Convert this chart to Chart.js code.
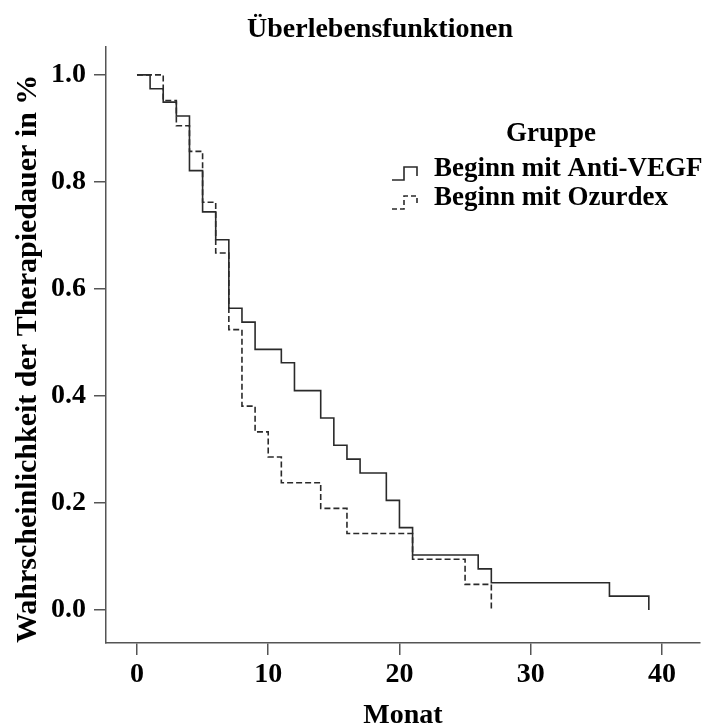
<!DOCTYPE html>
<html><head><meta charset="utf-8">
<script src="https://cdn.jsdelivr.net/npm/chart.js@4.4.1/dist/chart.umd.min.js"></script>
<style>html,body{margin:0;padding:0;background:#fff;} canvas{display:block;}</style>
</head><body>
<canvas id="c" width="712" height="724"></canvas>
<script>
const chartTitle = 'Überlebensfunktionen';
const legendTitle = 'Gruppe';
const seriesNames = ['Beginn mit Anti-VEGF', 'Beginn mit Ozurdex'];
const antiVegfMonths   = [0, 1, 2, 3, 4, 5, 6, 7, 8, 9, 11, 12, 14, 15, 16, 17, 19, 20, 21, 26, 27, 36, 39];
const antiVegfSurvival = [1.0, 0.974, 0.949, 0.923, 0.821, 0.744, 0.692, 0.564, 0.538, 0.487, 0.462, 0.410, 0.359, 0.308, 0.282, 0.256, 0.205, 0.154, 0.103, 0.077, 0.051, 0.026, 0.0];
const ozurdexMonths    = [0, 2, 3, 4, 5, 6, 7, 8, 9, 10, 11, 14, 16, 21, 25, 27];
const ozurdexSurvival  = [1.0, 0.952, 0.905, 0.857, 0.762, 0.667, 0.524, 0.381, 0.333, 0.286, 0.238, 0.190, 0.143, 0.095, 0.048, 0.0];
const xTickValues = [0, 10, 20, 30, 40];
const yTickValues = [0.0, 0.2, 0.4, 0.6, 0.8, 1.0];
const xAxisTitle = 'Monat';
const yAxisTitle = 'Wahrscheinlichkeit der Therapiedauer in %';

const FAMILY = '"Liberation Serif", "Times New Roman", serif';
const LINE = '#2a2a2a';

const toPoints = (xs, ys) => xs.map((x, i) => ({x: x, y: ys[i]}));

const overlay = {
  id: 'overlay',
  afterDraw(chart) {
    const ctx = chart.ctx;
    ctx.save();
    ctx.fillStyle = '#000';
    ctx.font = 'bold 28px ' + FAMILY;
    ctx.textAlign = 'center';
    ctx.textBaseline = 'alphabetic';
    ctx.fillText(chartTitle, 380, 37);
    ctx.font = 'bold 27px ' + FAMILY;
    ctx.fillText(legendTitle, 551, 141);
    ctx.textAlign = 'left';
    const rows = [176, 205];
    seriesNames.forEach((name, i) => {
      const by = rows[i];
      ctx.fillText(name, 434, by);
      ctx.strokeStyle = LINE;
      ctx.lineWidth = 1.6;
      ctx.setLineDash(i === 1 ? [5, 3] : []);
      ctx.beginPath();
      ctx.moveTo(392, by + 4);
      ctx.lineTo(404, by + 4);
      ctx.lineTo(404, by - 9);
      ctx.lineTo(417, by - 9);
      ctx.lineTo(417, by);
      ctx.stroke();
    });
    ctx.restore();
  }
};

const tickFont = {family: FAMILY, size: 28, weight: 'bold'};
const yTitleFont = {family: FAMILY, size: 30, weight: 'bold'};

new Chart(document.getElementById('c'), {
  type: 'line',
  data: {
    datasets: [
      {
        label: seriesNames[0],
        data: toPoints(antiVegfMonths, antiVegfSurvival),
        borderColor: LINE,
        borderWidth: 1.6,
        stepped: 'before',
        pointRadius: 0,
        fill: false
      },
      {
        label: seriesNames[1],
        data: toPoints(ozurdexMonths, ozurdexSurvival),
        borderColor: LINE,
        borderWidth: 1.6,
        borderDash: [6, 3],
        stepped: 'before',
        pointRadius: 0,
        fill: false
      }
    ]
  },
  options: {
    responsive: false,
    animation: false,
    devicePixelRatio: 1,
    layout: {padding: {top: 47, right: 12, left: 0, bottom: 0}},
    plugins: {
      legend: {display: false},
      title: {display: false},
      tooltip: {enabled: false}
    },
    scales: {
      x: {
        type: 'linear',
        min: -2.36,
        max: 42.9,
        afterBuildTicks: s => { s.ticks = xTickValues.map(v => ({value: v})); },
        afterFit: s => { s.height = 81; },
        grid: {display: true, drawOnChartArea: false, drawTicks: true, tickLength: 12, color: '#555', lineWidth: 1.5},
        border: {display: true, color: '#555', width: 1.5},
        ticks: {font: tickFont, color: '#000', padding: 3, maxRotation: 0, autoSkip: false},
        title: {display: true, text: xAxisTitle, font: tickFont, color: '#000', padding: {top: 0, bottom: -9}}
      },
      y: {
        type: 'linear',
        min: -0.0615,
        max: 1.052,
        afterBuildTicks: s => { s.ticks = yTickValues.map(v => ({value: v})); },
        afterFit: s => { s.width = 106; },
        grid: {display: true, drawOnChartArea: false, drawTicks: true, tickLength: 12, color: '#555', lineWidth: 1.5},
        border: {display: true, color: '#555', width: 1.5},
        ticks: {font: tickFont, color: '#000', padding: 8, autoSkip: false, callback: v => Number(v).toFixed(1)},
        title: {display: true, text: yAxisTitle, font: yTitleFont, color: '#000', align: 'start', padding: {top: 10, bottom: 0}}
      }
    }
  },
  plugins: [overlay]
});
</script>
</body></html>
